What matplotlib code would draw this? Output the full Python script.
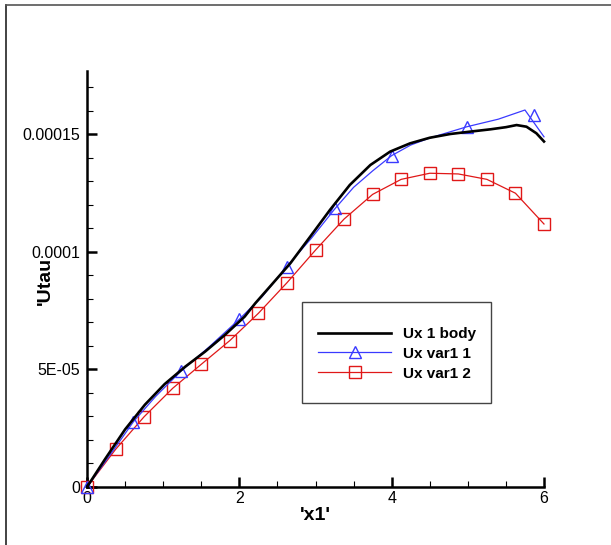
import matplotlib
matplotlib.use("Agg")
import matplotlib.pyplot as plt
from matplotlib.lines import Line2D
from matplotlib.patches import Rectangle
from matplotlib.legend_handler import HandlerTuple

plt.rcParams['font.family'] = ['Liberation Sans', 'DejaVu Sans']

# Ux 1 body (black)
body_x = [0, 0.24, 0.5, 0.76, 1.02, 1.29, 1.55, 1.81, 2.07, 2.21, 2.4, 2.67, 2.93, 3.19,
          3.45, 3.72, 3.98, 4.24, 4.5, 4.77, 5.03, 5.3, 5.5, 5.64, 5.77, 5.9, 6.0]
body_y = [0, 1.2e-5, 2.45e-5, 3.5e-5, 4.38e-5, 5.12e-5, 5.76e-5, 6.47e-5, 7.25e-5, 7.82e-5,
          8.52e-5, 9.52e-5, 1.065e-4, 1.179e-4, 1.285e-4, 1.37e-4, 1.427e-4, 1.462e-4,
          1.486e-4, 1.502e-4, 1.512e-4, 1.522e-4, 1.531e-4, 1.54e-4, 1.533e-4, 1.505e-4, 1.47e-4]

# Ux var1 1 (blue) - line and symbols
var1_x = [0, 0.3, 0.61, 0.9, 1.24, 1.6, 2.0, 2.3, 2.62, 2.95, 3.26, 3.5, 3.75, 4.0,
          4.25, 4.5, 4.99, 5.4, 5.75, 6.0]
var1_y = [0, 1.35e-5, 2.78e-5, 3.85e-5, 4.95e-5, 5.95e-5, 7.14e-5, 8.1e-5, 9.37e-5, 1.06e-4,
          1.186e-4, 1.275e-4, 1.345e-4, 1.41e-4, 1.455e-4, 1.485e-4, 1.533e-4, 1.565e-4,
          1.604e-4, 1.49e-4]
var1_sym_x = [0, 0.61, 1.24, 2.0, 2.62, 3.26, 4.0, 4.99, 5.87]
var1_sym_y = [0, 2.78e-5, 4.95e-5, 7.14e-5, 9.37e-5, 1.186e-4, 1.41e-4, 1.533e-4, 1.583e-4]

# Ux var1 2 (red)
var2_x = [0, 0.375, 0.75, 1.125, 1.5, 1.875, 2.25, 2.625, 3.0, 3.375, 3.75, 4.125, 4.5,
          4.875, 5.25, 5.625, 6.0]
var2_y = [0, 1.6e-5, 2.99e-5, 4.2e-5, 5.22e-5, 6.23e-5, 7.39e-5, 8.69e-5, 1.008e-4, 1.14e-4,
          1.245e-4, 1.309e-4, 1.335e-4, 1.332e-4, 1.309e-4, 1.25e-4, 1.119e-4]

xticks = [0, 2, 4, 6]
xtick_labels = ['0', '2', '4', '6']
yticks = [0, 5e-5, 1e-4, 1.5e-4]
ytick_labels = ['0', '5E-05', '0.0001', '0.00015']

W, H = 611, 545
fig = plt.figure(figsize=(W / 100, H / 100), dpi=100)
ax = fig.add_axes([87 / W, 58 / H, 457 / W, 416 / H])

blue = '#3a3aff'
red = '#e01818'

l_body, = ax.plot(body_x, body_y, color='black', lw=1.9, clip_on=False, zorder=4)
l_v1, = ax.plot(var1_x, var1_y, color=blue, lw=0.9, clip_on=False, zorder=3.5)
m_v1, = ax.plot(var1_sym_x, var1_sym_y, ls='none', marker='^', ms=9, mfc='none',
                mec=blue, mew=1.0, clip_on=False, zorder=3.5)
l_v2, = ax.plot(var2_x, var2_y, color=red, lw=0.9, marker='s', ms=8.5, mfc='none',
                mec=red, mew=1.0, clip_on=False, zorder=3)

ax.set_xlim(0, 6)
ax.set_ylim(0, 1.77e-4)
ax.set_xticks(xticks)
ax.set_xticklabels(xtick_labels)
ax.set_yticks(yticks)
ax.set_yticklabels(ytick_labels)
ax.set_xticks([0.5 * i for i in range(13)], minor=True)
ax.set_yticks([1e-5 * i for i in range(18)], minor=True)

for s in ['top', 'right']:
    ax.spines[s].set_visible(False)
for s in ['left', 'bottom']:
    ax.spines[s].set_linewidth(1.8)

ax.tick_params(which='major', direction='in', length=7, width=1.8, labelsize=11.5, pad=5)
ax.tick_params(which='minor', direction='in', length=4, width=0.8)
ax.tick_params(axis='x', which='major', pad=3)

ax.set_xlabel("'x1'", fontsize=14, fontweight='bold')
ax.set_ylabel("'Utau", fontsize=14, fontweight='bold')
ax.xaxis.set_label_coords(0.5, -0.048)
ax.yaxis.set_label_coords(-0.072, 0.495)

# legend box (Tecplot style: wide vertical margin)
ax.add_patch(Rectangle((302 / W, 1 - 403 / H), 189 / W, 101 / H, transform=fig.transFigure,
                       facecolor='white', edgecolor='#444444', lw=1.0, clip_on=False,
                       zorder=4.5))
leg = ax.legend([l_body, (l_v1, m_v1), l_v2], ['Ux 1 body', 'Ux var1 1', 'Ux var1 2'],
                handler_map={tuple: HandlerTuple(ndivide=1)},
                loc='upper left', bbox_to_anchor=(295 / W, 1 - 304 / H),
                bbox_transform=fig.transFigure, borderaxespad=0, numpoints=1,
                prop={'weight': 'bold', 'size': 11}, handlelength=4.8, handletextpad=0.8,
                labelspacing=0.38, borderpad=1.5, frameon=False)

# outer frame
fig.add_artist(Line2D([6 / W, 6 / W], [0, 1 - 5 / H], transform=fig.transFigure,
                      color='#222222', lw=1.2))
fig.add_artist(Line2D([6 / W, 1], [1 - 5 / H, 1 - 5 / H], transform=fig.transFigure,
                      color='#555555', lw=1.2))

fig.savefig('out.png', dpi=100)
